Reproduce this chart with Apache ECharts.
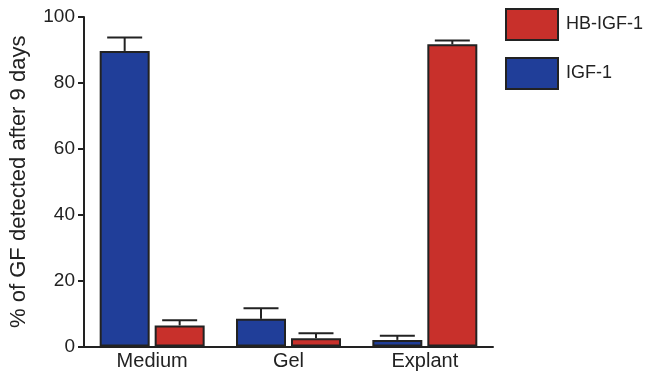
<!DOCTYPE html>
<html>
<head>
<meta charset="utf-8">
<script src="https://cdn.jsdelivr.net/npm/echarts@6/dist/echarts.min.js"></script>
<style>html,body{margin:0;padding:0;background:#fff}#c{width:647px;height:375px}</style>
</head>
<body>
<div id="c"></div>
<script>
const categories = ['Medium', 'Gel', 'Explant'];
const igf1Values = [89.7, 8.4, 2.0];
const igf1Errors = [93.8, 11.6, 3.3];
const hbIgf1Values = [6.4, 2.5, 91.7];
const hbIgf1Errors = [8.0, 4.0, 92.9];
const yTicks = [0, 20, 40, 60, 80, 100];

const FONT = 'Liberation Sans, Arial, Helvetica, sans-serif';
const INK = '#222';
const CAT_GAP = 0.23, BAR_GAP = 0.1;

function errorSeries(name, vals, errs, side) {
  return {
    type: 'custom',
    name: name + '-err',
    z: 1,
    silent: true,
    data: categories.map((c, i) => [i, vals[i], errs[i]]),
    renderItem: function (params, api) {
      const i = api.value(0);
      const bw = api.size([1, 0])[0];
      const barW = bw * (1 - CAT_GAP) / (2 + BAR_GAP);
      const off = side * barW * (1 + BAR_GAP) / 2;
      const base = api.coord([i, api.value(1)]);
      const top = api.coord([i, api.value(2)]);
      const x = base[0] + off;
      const cap = barW * 0.7;
      return {
        type: 'group',
        children: [
          { type: 'line', shape: { x1: x, y1: base[1], x2: x, y2: top[1] }, style: { stroke: INK, lineWidth: 2 } },
          { type: 'line', shape: { x1: x - cap / 2, y1: top[1], x2: x + cap / 2, y2: top[1] }, style: { stroke: INK, lineWidth: 2 } }
        ]
      };
    }
  };
}

const chart = echarts.init(document.getElementById('c'));
chart.setOption({
  animation: false,
  textStyle: { fontFamily: FONT },
  grid: { left: 84, right: 154, top: 17, bottom: 28.5, containLabel: false, outerBoundsMode: 'none' },
  legend: {
    orient: 'vertical',
    left: 505, top: 8, padding: 0,
    icon: 'rect',
    itemWidth: 52, itemHeight: 31, itemGap: 16,
    data: ['HB-IGF-1', 'IGF-1'],
    textStyle: { fontSize: 18, color: INK, fontFamily: FONT, padding: [0, 0, 0, 3] }
  },
  xAxis: {
    type: 'category',
    data: categories,
    axisLine: { lineStyle: { color: INK, width: 2 } },
    axisTick: { inside: true, length: 6, lineStyle: { color: INK, width: 2 } },
    axisLabel: { fontSize: 20, color: INK, margin: 5, fontFamily: FONT }
  },
  yAxis: {
    type: 'value',
    min: 0, max: 100, interval: 20,
    name: '% of GF detected after 9 days',
    nameLocation: 'middle', nameRotate: 90, nameGap: 54,
    nameTextStyle: { fontSize: 22, color: INK, fontFamily: FONT },
    splitLine: { show: false },
    axisLine: { show: true, lineStyle: { color: INK, width: 2 } },
    axisTick: { show: true, length: 6, lineStyle: { color: INK, width: 2 } },
    axisLabel: {
      fontSize: 19, color: INK, margin: 9, fontFamily: FONT,
      formatter: v => yTicks.includes(v) ? String(v) : ''
    }
  },
  series: [
    {
      name: 'IGF-1', type: 'bar', data: igf1Values,
      barCategoryGap: (CAT_GAP * 100) + '%', barGap: (BAR_GAP * 100) + '%',
      itemStyle: { color: '#203e99', borderColor: INK, borderWidth: 2 }, z: 2
    },
    {
      name: 'HB-IGF-1', type: 'bar', data: hbIgf1Values,
      barCategoryGap: (CAT_GAP * 100) + '%', barGap: (BAR_GAP * 100) + '%',
      itemStyle: { color: '#c8302b', borderColor: INK, borderWidth: 2 }, z: 2
    },
    errorSeries('IGF-1', igf1Values, igf1Errors, -1),
    errorSeries('HB-IGF-1', hbIgf1Values, hbIgf1Errors, 1)
  ]
});
</script>
</body>
</html>
